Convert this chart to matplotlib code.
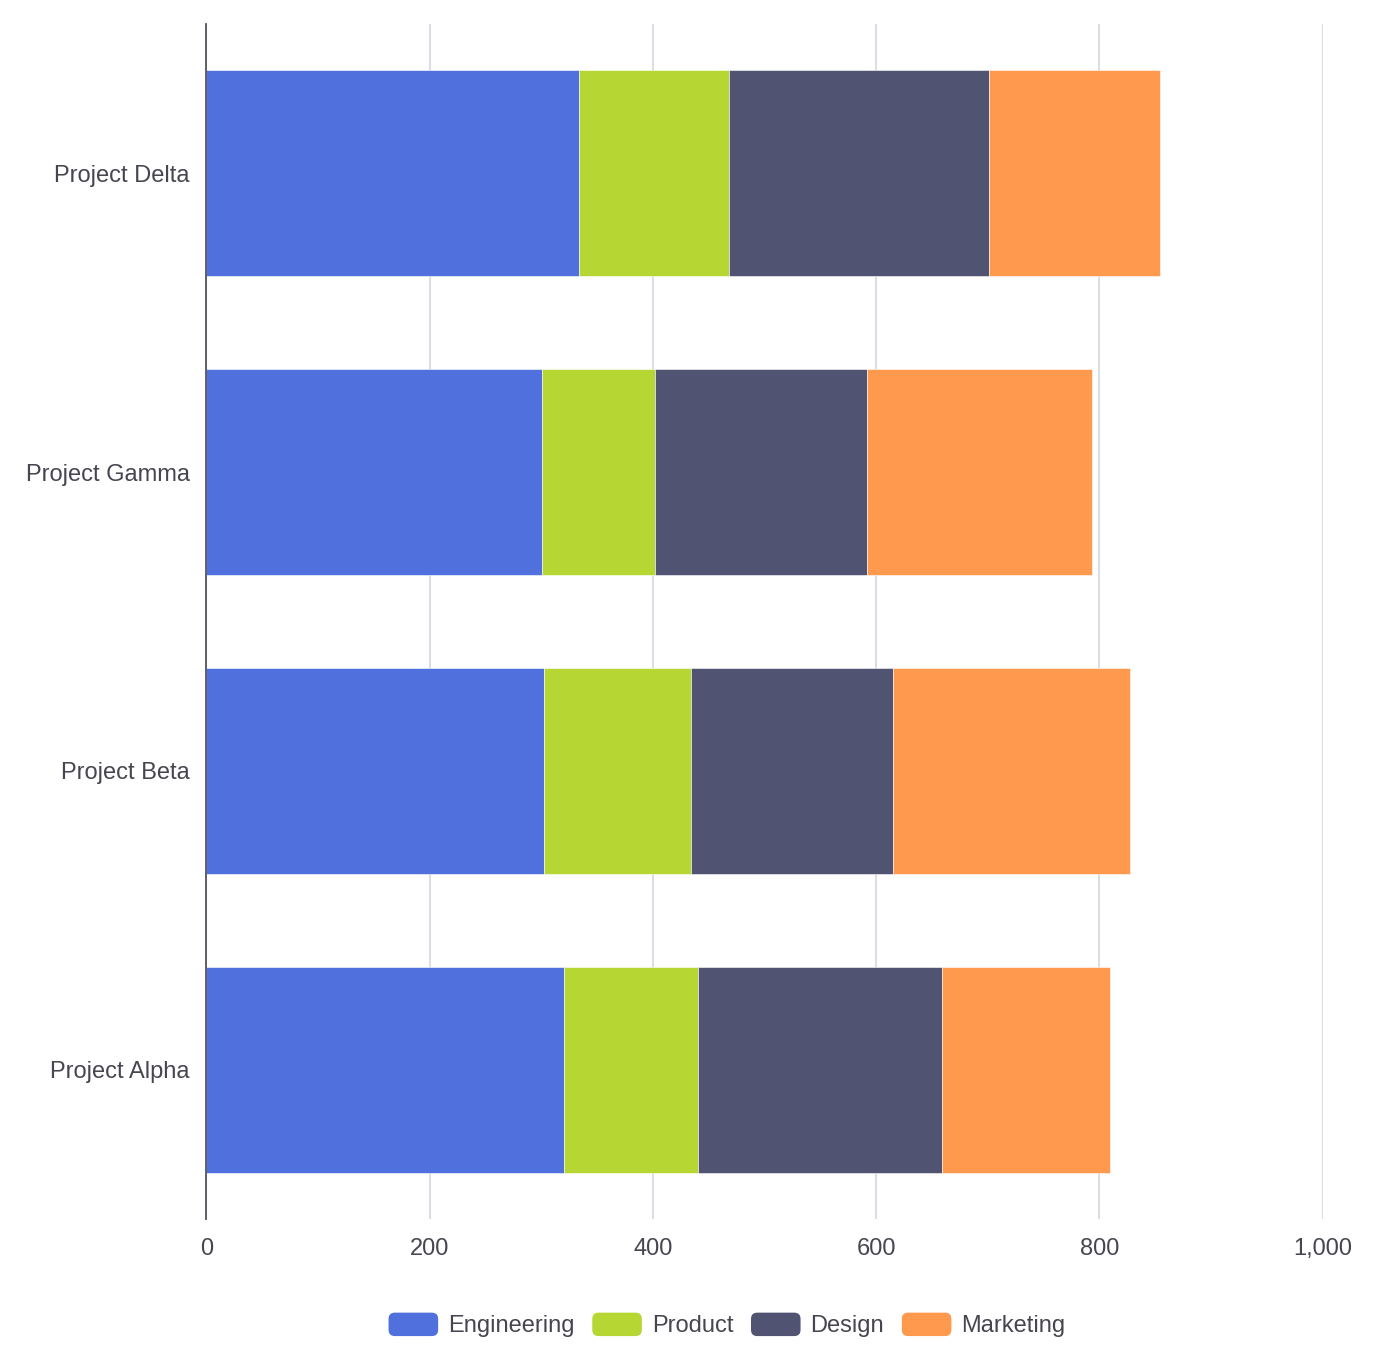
import matplotlib
matplotlib.use('Agg')
import matplotlib.pyplot as plt
from matplotlib.patches import Patch, FancyBboxPatch
from matplotlib.legend_handler import HandlerPatch
from matplotlib.ticker import FuncFormatter, MultipleLocator

# Dados do gráfico
projects = ['Project Alpha', 'Project Beta', 'Project Gamma', 'Project Delta']
engineering = [320, 302, 301, 334]
product = [120, 132, 101, 134]
design = [219, 181, 190, 233]
marketing = [150, 212, 201, 153]

series_names = ['Engineering', 'Product', 'Design', 'Marketing']
series_values = [engineering, product, design, marketing]
colors = ['#5070dd', '#b6d634', '#505372', '#ff994d']

plt.rcParams['font.family'] = ['Liberation Sans', 'DejaVu Sans']
text_color = '#464650'


class RoundedHandler(HandlerPatch):
    # ícone de legenda com cantos arredondados
    def create_artists(self, legend, orig_handle, xdescent, ydescent,
                       width, height, fontsize, trans):
        p = FancyBboxPatch((-xdescent, -ydescent), width, height,
                           boxstyle='round,pad=0,rounding_size=4.5',
                           facecolor=orig_handle.get_facecolor(),
                           edgecolor='none', transform=trans)
        return [p]


fig = plt.figure(figsize=(13.77, 13.63), dpi=100)
ax = fig.add_axes([206.5 / 1377, 1 - 1219 / 1363, (1322.7 - 206.5) / 1377, (1219 - 24) / 1363])

left = [0] * len(projects)
for name, vals, c in zip(series_names, series_values, colors):
    ax.barh(projects, vals, left=left, height=0.69, color=c, label=name,
            edgecolor='white', linewidth=0.4, zorder=3)
    left = [l + v for l, v in zip(left, vals)]

ax.set_xlim(0, 1000)
ax.set_ylim(-0.5, len(projects) - 0.5)
ax.xaxis.set_major_locator(MultipleLocator(200))
ax.xaxis.set_major_formatter(FuncFormatter(lambda v, p: f'{int(v):,}'))
ax.grid(axis='x', color='#dbdee4', linewidth=1.5, zorder=0)
ax.grid(axis='y', visible=False)

for s in ['top', 'right', 'bottom']:
    ax.spines[s].set_visible(False)
ax.spines['left'].set_color('#54555a')
ax.spines['left'].set_linewidth(1.3)
ax.spines['left'].set_zorder(4)

ax.tick_params(axis='both', length=0, labelsize=17, colors=text_color)
ax.tick_params(axis='x', pad=14)
ax.tick_params(axis='y', pad=12)

handles = [Patch(facecolor=c, label=n) for n, c in zip(series_names, colors)]
fig.legend(handles=handles, loc='center', bbox_to_anchor=(727 / 1377, 1 - 1325 / 1363),
           ncol=4, frameon=False, fontsize=17, labelcolor=text_color,
           handlelength=2.1, handleheight=1.15, handletextpad=0.42,
           columnspacing=0.75, handler_map={Patch: RoundedHandler()})

plt.savefig('out.png', dpi=100)
